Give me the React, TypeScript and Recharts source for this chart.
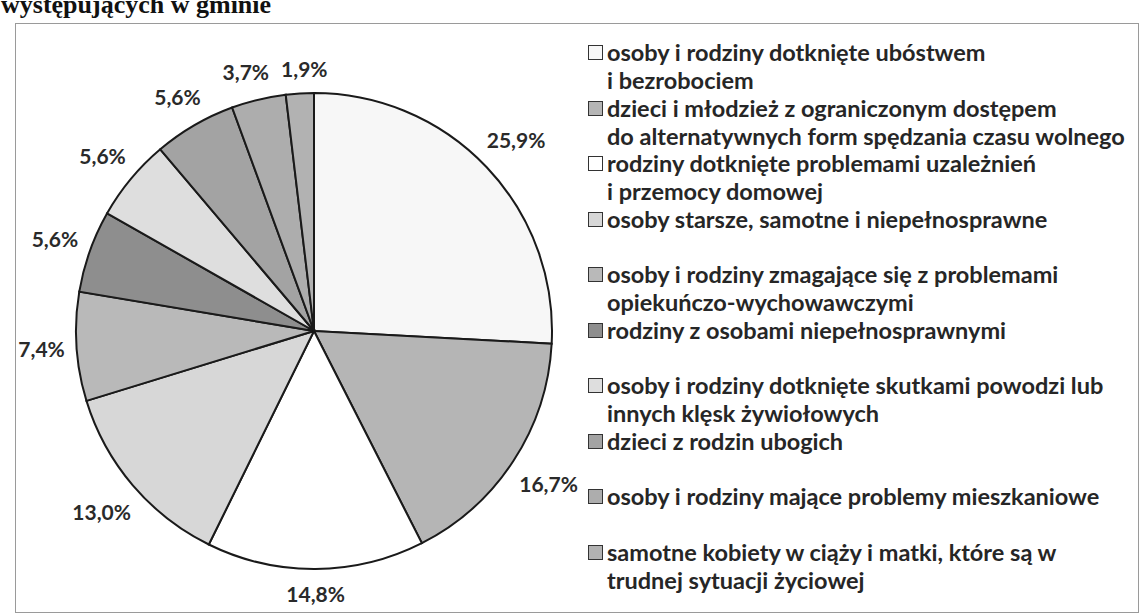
import React from 'react';
import { PieChart, Pie, Cell, Legend } from 'recharts';

// kategorie (z recznym lamaniem linii jak w oryginale)
const categories = [
    'osoby i rodziny dotknięte ubóstwem\ni bezrobociem',
    'dzieci i młodzież z ograniczonym dostępem\ndo alternatywnych form spędzania czasu wolnego',
    'rodziny dotknięte problemami uzależnień\ni przemocy domowej',
    'osoby starsze, samotne i niepełnosprawne',
    'osoby i rodziny zmagające się z problemami\nopiekuńczo-wychowawczymi',
    'rodziny z osobami niepełnosprawnymi',
    'osoby i rodziny dotknięte skutkami powodzi lub\ninnych klęsk żywiołowych',
    'dzieci z rodzin ubogich',
    'osoby i rodziny mające problemy mieszkaniowe',
    'samotne kobiety w ciąży i matki, które są w\ntrudnej sytuacji życiowej',
];

const shares = [25.9, 16.7, 14.8, 13.0, 7.4, 5.6, 5.6, 5.6, 3.7, 1.9];

const COLORS = ['#f7f7f7', '#b5b5b5', '#ffffff', '#d7d7d7', '#b9b9b9', '#8e8e8e', '#dedede', '#a3a3a3', '#adadad', '#b2b2b2'];

const FONT = 'Lato, "Open Sans", sans-serif';
const LABEL_SIZE = 21;
const R = 238;

const data = categories.map((name, i) => ({ name, value: shares[i] }));

const fmt = (v: number) => v.toFixed(1).replace('.', ',') + '%';

const RADIAN = Math.PI / 180;

// odleglosc srodka etykiety od srodka kola (odstep liczony od krawedzi napisu)
const labelRadius = (txt: string, c: number, s: number) => {
    const halfW = (txt.length * LABEL_SIZE * 0.53) / 2;
    return R + 12 + Math.abs(c) * halfW + Math.abs(s) * 12;
};

// przesuniecia w poziomie, zeby sasiednie etykiety na siebie nie nachodzily
const labelShift = (() => {
    const total = shares.reduce((a, b) => a + b, 0);
    let acc = 0;
    const pos = shares.map((v) => {
        const mid = 90 - ((acc + v / 2) / total) * 360;
        acc += v;
        const txt = fmt(v);
        const c = Math.cos(-mid * RADIAN);
        const s = Math.sin(-mid * RADIAN);
        const r = labelRadius(txt, c, s);
        return { x: r * c, y: r * s, w: txt.length * LABEL_SIZE * 0.53, dx: 0 };
    });
    for (let i = 0; i < pos.length; i++) {
        const a = pos[i];
        const b = pos[(i + 1) % pos.length];
        const ox = (a.w + b.w) / 2 + 14 - Math.abs(a.x + a.dx - (b.x + b.dx));
        const oy = 24 - Math.abs(a.y - b.y);
        if (ox > 0 && oy > 0) {
            const sign = b.x + b.dx >= a.x + a.dx ? 1 : -1;
            a.dx -= (sign * ox) / 2;
            b.dx += (sign * ox) / 2;
        }
    }
    return pos.map((p) => p.dx);
})();

const renderLabel = (props: any) => {
    const { cx, cy, midAngle, value, index } = props;
    const txt = fmt(value);
    const c = Math.cos(-midAngle * RADIAN);
    const s = Math.sin(-midAngle * RADIAN);
    const r = labelRadius(txt, c, s);
    return (
        <text x={cx + r * c + labelShift[index]} y={cy + r * s} textAnchor="middle" dominantBaseline="central"
            fill="#2a2a2a" fontFamily={FONT} fontWeight={700} fontSize={LABEL_SIZE}>
            {txt}
        </text>
    );
};

const renderLegend = () => (
    <div style={{ fontFamily: FONT, fontWeight: 700, fontSize: 23.5, color: '#262626' }}>
        {data.map((d, i) => (
            <div key={i} style={{ height: 55.5, display: 'flex', alignItems: 'flex-start' }}>
                <span style={{
                    width: 13, height: 13, marginTop: 7, marginRight: 4, flex: 'none',
                    background: COLORS[i], border: '1.5px solid #333',
                }} />
                <span style={{ whiteSpace: 'pre-line', lineHeight: '28px' }}>{d.name}</span>
            </div>
        ))}
    </div>
);

export default function App() {
    return (
        <div style={{ position: 'absolute', left: 0, top: 0, width: 1141, height: 614, background: '#fff', overflow: 'hidden' }}>
            <div style={{
                position: 'absolute', left: 1, top: -8, lineHeight: '26px',
                fontFamily: '"Liberation Serif", serif', fontWeight: 700, fontSize: 26, color: '#111',
            }}>
                występujących w gminie
            </div>
            <div style={{
                position: 'absolute', left: 15, top: 23, width: 1122, height: 588,
                border: '1px solid #9a9a9a',
            }} />
            <div style={{ position: 'absolute', left: 0, top: 0 }}>
                <PieChart width={1141} height={614}>
                    <Pie
                        data={data}
                        dataKey="value"
                        nameKey="name"
                        cx={309}
                        cy={326}
                        outerRadius={R}
                        startAngle={90}
                        endAngle={-270}
                        stroke="#1a1a1a"
                        strokeWidth={2}
                        labelLine={false}
                        label={renderLabel}
                        isAnimationActive={false}
                    >
                        {data.map((_, i) => (
                            <Cell key={`cell-${i}`} fill={COLORS[i]} />
                        ))}
                    </Pie>
                    <Legend
                        layout="vertical"
                        content={renderLegend}
                        wrapperStyle={{ left: 588, top: 38, width: 553 }}
                    />
                </PieChart>
            </div>
        </div>
    );
}
